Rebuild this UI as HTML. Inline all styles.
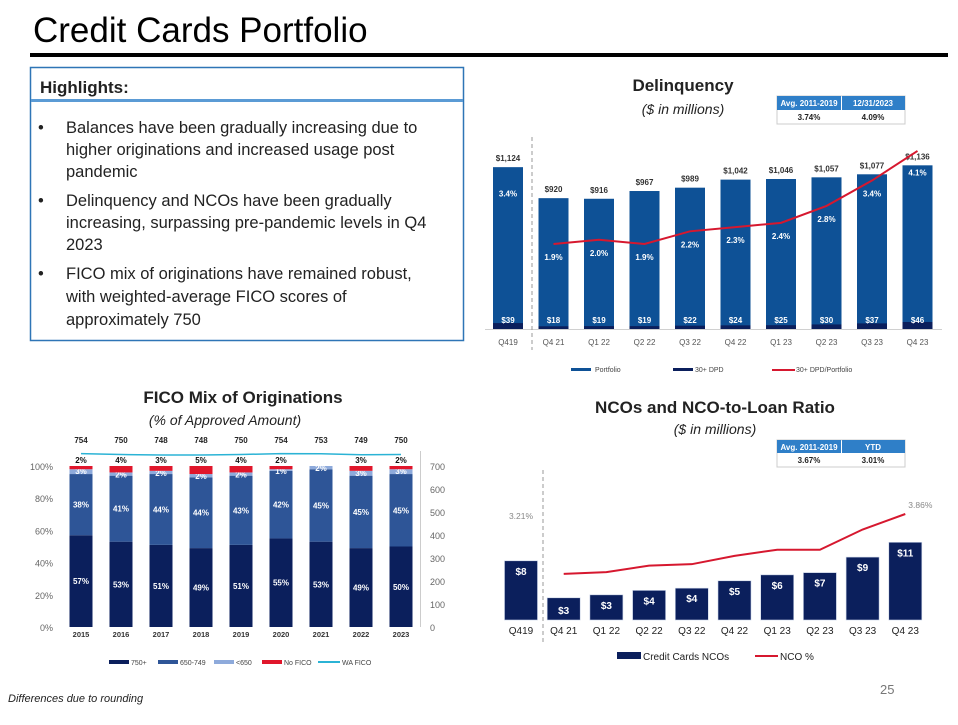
<!DOCTYPE html>
<html><head><meta charset="utf-8"><style>
body{margin:0;width:958px;height:720px;overflow:hidden;background:#fff;font-family:"Liberation Sans",sans-serif}
svg text{font-family:"Liberation Sans",sans-serif}
</style></head><body>
<svg id="s" width="958" height="720" viewBox="0 0 958 720" xmlns="http://www.w3.org/2000/svg">
<text x="33" y="42" font-size="35" fill="#000">Credit Cards Portfolio</text>
<rect x="30" y="53" width="918" height="4" fill="#000"/>
<g>
<rect x="30.5" y="67.5" width="433" height="273" fill="none" stroke="#2e75b6" stroke-width="1.5"/>
<text x="40" y="93" font-size="17" font-weight="bold" fill="#222">Highlights:</text>
<rect x="31" y="99" width="432" height="3" fill="#5b9bd5"/>
<g font-size="16.5" fill="#222">
<text x="38" y="133">•</text><text x="66" y="133">Balances have been gradually increasing due to</text>
<text x="66" y="155">higher originations and increased usage post</text>
<text x="66" y="177">pandemic</text>
<text x="38" y="206">•</text><text x="66" y="206">Delinquency and NCOs have been gradually</text>
<text x="66" y="228">increasing, surpassing pre-pandemic levels in Q4</text>
<text x="66" y="250">2023</text>
<text x="38" y="279">•</text><text x="66" y="279">FICO mix of originations have remained robust,</text>
<text x="66" y="302">with weighted-average FICO scores of</text>
<text x="66" y="325">approximately 750</text>
</g></g>
<text x="683" y="91" font-size="17" font-weight="bold" text-anchor="middle" fill="#222">Delinquency</text>
<text x="683" y="114" font-size="14" font-style="italic" text-anchor="middle" fill="#222">($ in millions)</text>
<g font-size="8" font-weight="bold" text-anchor="middle">
<rect x="777" y="96" width="128" height="28" fill="#fff" stroke="#ccc"/>
<rect x="777" y="96" width="64" height="14" fill="#2f7fc8"/><rect x="842" y="96" width="63" height="14" fill="#2f7fc8"/>
<text x="809" y="106" fill="#fff">Avg. 2011-2019</text><text x="873" y="106" fill="#fff">12/31/2023</text>
<text x="809" y="120" fill="#222">3.74%</text><text x="873" y="120" fill="#222">4.09%</text>
</g>
<g id="dq"></g>
<text x="243" y="403" font-size="17" font-weight="bold" text-anchor="middle" fill="#222">FICO Mix of Originations</text>
<text x="225" y="425" font-size="14" font-style="italic" text-anchor="middle" fill="#222">(% of Approved Amount)</text>
<g id="fico"></g>
<text x="715" y="413" font-size="17" font-weight="bold" text-anchor="middle" fill="#222">NCOs and NCO-to-Loan Ratio</text>
<text x="715" y="434" font-size="14" font-style="italic" text-anchor="middle" fill="#222">($ in millions)</text>
<g font-size="8" font-weight="bold" text-anchor="middle">
<rect x="777" y="440" width="128" height="27" fill="#fff" stroke="#ccc"/>
<rect x="777" y="440" width="64" height="13" fill="#2f7fc8"/><rect x="842" y="440" width="63" height="13" fill="#2f7fc8"/>
<text x="809" y="450" fill="#fff">Avg. 2011-2019</text><text x="873" y="450" fill="#fff">YTD</text>
<text x="809" y="463" fill="#222">3.67%</text><text x="873" y="463" fill="#222">3.01%</text>
</g>
<g id="nco"></g>
<text x="880" y="694" font-size="13" fill="#777">25</text>
<text x="8" y="702" font-size="11" font-style="italic" fill="#222">Differences due to rounding</text>
</svg>
<script>
const dqCats=["Q419","Q4 21","Q1 22","Q2 22","Q3 22","Q4 22","Q1 23","Q2 23","Q3 23","Q4 23"];
const dqPortfolio=[1124,920,916,967,989,1042,1046,1057,1077,1136];
const dqDpd=[39,18,19,19,22,24,25,30,37,46];
const dqPct=[3.4,1.9,2.0,1.9,2.2,2.3,2.4,2.8,3.4,4.1];
const ficoYears=["2015","2016","2017","2018","2019","2020","2021","2022","2023"];
const fico750=[57,53,51,49,51,55,53,49,50];
const fico650=[38,41,44,44,43,42,45,45,45];
const ficoLow=[3,2,2,2,2,1,2,3,3];
const ficoNone=[2,4,3,5,4,2,0,3,2];
const ficoWA=[754,750,748,748,750,754,753,749,750];
const ficoLeftTicks=["0%","20%","40%","60%","80%","100%"];
const ficoRightTicks=[0,100,200,300,400,500,600,700];
const ncoCats=["Q419","Q4 21","Q1 22","Q2 22","Q3 22","Q4 22","Q1 23","Q2 23","Q3 23","Q4 23"];
const ncoVals=[8.0,3.0,3.4,4.0,4.3,5.3,6.1,6.4,8.5,10.5];
const ncoLabels=["$8","$3","$3","$4","$4","$5","$6","$7","$9","$11"];
const ncoPct=[3.21,2.2,2.25,2.43,2.47,2.7,2.87,2.87,3.43,3.86];

const NS="http://www.w3.org/2000/svg";
function mk(p,t,a,txt){const e=document.createElementNS(NS,t);for(const k in a)e.setAttribute(k,a[k]);if(txt!=null)e.textContent=txt;p.appendChild(e);return e;}
function fmt(v){return "$"+v.toLocaleString("en-US");}

// Delinquency
(function(){
const g=document.getElementById("dq");
const x=i=>508+i*45.5, yV=v=>338-v*0.152, base=329, yP=p=>244-(p-1.9)*42.3, bw=30;
mk(g,"line",{x1:485,y1:base+0.5,x2:942,y2:base+0.5,stroke:"#d0d0d0"});
mk(g,"line",{x1:532,y1:137,x2:532,y2:350,stroke:"#999","stroke-dasharray":"4,3"});
dqCats.forEach((c,i)=>{
 let r=mk(g,"rect",{x:x(i)-bw/2,y:yV(dqPortfolio[i]),width:bw,height:base-yV(dqPortfolio[i]),fill:"#0e5196"});
 
 
 let d=mk(g,"rect",{x:x(i)-bw/2,y:base-dqDpd[i]*0.152,width:bw,height:dqDpd[i]*0.152,fill:"#0b1f5c"});
 
 
 mk(g,"text",{x:x(i),y:yV(dqPortfolio[i])-6,"font-size":8,"font-weight":"bold","text-anchor":"middle",fill:"#333"},fmt(dqPortfolio[i]));
 mk(g,"text",{x:x(i),y:323,"font-size":8,"font-weight":"bold","text-anchor":"middle",fill:"#fff"},"$"+dqDpd[i]);
 const ly=i==9?yV(dqPortfolio[i])+10:yP(dqPct[i])+16;
 mk(g,"text",{x:x(i),y:ly,"font-size":8,"font-weight":"bold","text-anchor":"middle",fill:"#fff"},dqPct[i].toFixed(1)+"%");
 mk(g,"text",{x:x(i),y:345,"font-size":8,"text-anchor":"middle",fill:"#555"},c);
});
let pts=dqPct.slice(1).map((p,j)=>x(j+1)+","+yP(p)).join(" ");
let pl=mk(g,"polyline",{points:pts,fill:"none",stroke:"#d6182f","stroke-width":2});


let lg=mk(g,"g",{"font-size":7,fill:"#444"});


mk(lg,"rect",{x:571,y:368,width:20,height:3,fill:"#0e5196"});mk(lg,"text",{x:595,y:372},"Portfolio");
mk(lg,"rect",{x:673,y:368,width:20,height:3,fill:"#0b1f5c"});mk(lg,"text",{x:695,y:372},"30+ DPD");
mk(lg,"line",{x1:772,y1:370,x2:795,y2:370,stroke:"#d6182f","stroke-width":2});mk(lg,"text",{x:796,y:372},"30+ DPD/Portfolio");
})();

// FICO
(function(){
const g=document.getElementById("fico");
const x=i=>81+i*40, yp=p=>627-p*1.61, yr=v=>627-v*0.23, bw=23;
ficoLeftTicks.forEach((t,i)=>mk(g,"text",{x:53,y:yp(i*20)+4,"font-size":9,"text-anchor":"end",fill:"#666"},t));
ficoRightTicks.forEach(t=>mk(g,"text",{x:430,y:yr(t)+4,"font-size":9,fill:"#666"},t));
mk(g,"line",{x1:420.5,y1:451,x2:420.5,y2:627,stroke:"#ccc"});
const series=[[fico750,"#0b1f5c"],[fico650,"#2e5597"],[ficoLow,"#8eaadb"],[ficoNone,"#e0162b"]];
ficoYears.forEach((yr_,i)=>{
 let acc=0;
 series.forEach(([arr,col],k)=>{
  const v=arr[i]; if(!v){return;}
  let r=mk(g,"rect",{x:x(i)-bw/2,y:yp(acc+v),width:bw,height:v*1.61,fill:col});
  
  
  let ty, c="#fff";
  if(k==0||k==1) ty=yp(acc+v/2)+3;
  else if(k==2) ty=yp(acc+v)+5;
  else {ty=yp(100)-3;c="#111";}
  mk(g,"text",{x:x(i),y:ty,"font-size":8,"font-weight":"bold","text-anchor":"middle",fill:c},v+"%");
  acc+=v;
 });
 mk(g,"text",{x:x(i),y:637,"font-size":7.5,"font-weight":"bold","text-anchor":"middle",fill:"#333"},yr_);
 mk(g,"text",{x:x(i),y:443,"font-size":8,"font-weight":"bold","text-anchor":"middle",fill:"#222"},ficoWA[i]);
});
let wl=mk(g,"polyline",{points:ficoWA.map((v,i)=>(i==0?x(i)-0:x(i))+","+yr(v)).join(" "),fill:"none",stroke:"#2bb3d5","stroke-width":1.5});


let lg=mk(g,"g",{"font-size":7,fill:"#444"});


[["750+",109,"#0b1f5c"],["650-749",158,"#2e5597"],["<650",214,"#8eaadb"],["No FICO",262,"#e0162b"]].forEach(([t,lx,c])=>{mk(lg,"rect",{x:lx,y:660,width:20,height:4,fill:c});mk(lg,"text",{x:lx+22,y:665},t);});
mk(lg,"line",{x1:318,y1:662,x2:340,y2:662,stroke:"#2bb3d5","stroke-width":2});mk(lg,"text",{x:342,y:665},"WA FICO");
})();

// NCO
(function(){
const g=document.getElementById("nco");
const x=i=>521+i*42.7, base=620, yv=v=>base-v*7.4, yp=p=>514-(p-3.86)*36.1, bw=33;
mk(g,"line",{x1:543,y1:470,x2:543,y2:642,stroke:"#999","stroke-dasharray":"4,3"});
ncoCats.forEach((c,i)=>{
 let r=mk(g,"rect",{x:x(i)-bw/2,y:yv(ncoVals[i]),width:bw,height:ncoVals[i]*7.4,fill:"#0b1f5c",stroke:"#c9d3e6","stroke-width":0.6});
 
 
 const ly=i==1?base-6:yv(ncoVals[i])+14;
 mk(g,"text",{x:x(i),y:ly,"font-size":10,"font-weight":"bold","text-anchor":"middle",fill:"#fff"},ncoLabels[i]);
 mk(g,"text",{x:x(i),y:634,"font-size":10,"text-anchor":"middle",fill:"#222"},c);
});
let pl=mk(g,"polyline",{points:ncoPct.slice(1).map((p,j)=>x(j+1)+","+yp(p)).join(" "),fill:"none",stroke:"#d6182f","stroke-width":2});


mk(g,"text",{x:x(0),y:519,"font-size":8.5,"text-anchor":"middle",fill:"#888"},ncoPct[0].toFixed(2)+"%");
mk(g,"text",{x:x(9)+3,y:yp(ncoPct[9])-6,"font-size":8.5,fill:"#888"},ncoPct[9].toFixed(2)+"%");
let lg=mk(g,"g",{"font-size":10,fill:"#222"});


mk(lg,"rect",{x:617,y:652,width:24,height:7,fill:"#0b1f5c"});mk(lg,"text",{x:643,y:660},"Credit Cards NCOs");
mk(lg,"line",{x1:755,y1:656,x2:778,y2:656,stroke:"#d6182f","stroke-width":2});mk(lg,"text",{x:780,y:660},"NCO %");
})();
</script>
</body></html>
